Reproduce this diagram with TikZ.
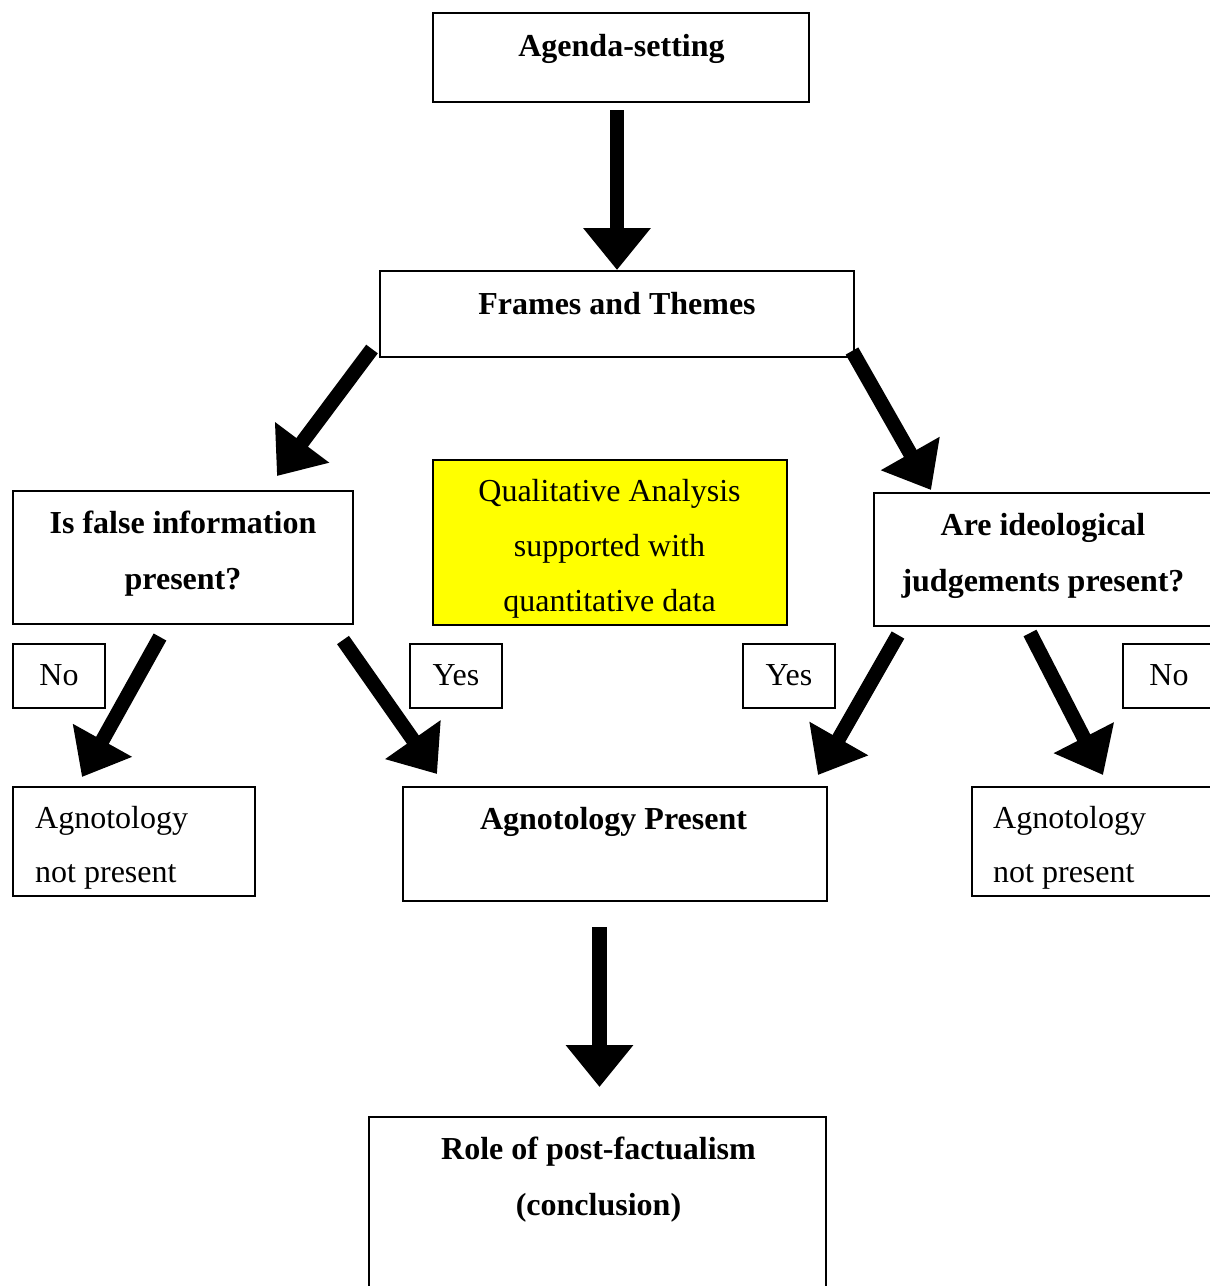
\documentclass[tikz,border=0pt]{standalone}
\usepackage{fontspec}
\setmainfont{Liberation Serif}
\usetikzlibrary{arrows.meta}
\definecolor{pureyellow}{RGB}{255,255,0}
\begin{document}
\begin{tikzpicture}[x=1pt,y=-1pt,
  box/.style={draw=black, line width=1.8pt, anchor=north west, inner sep=0pt, outer sep=0pt},
  txt/.style={anchor=base, inner sep=0pt, font=\fontsize{32}{55}\selectfont},
  txtl/.style={anchor=base west, inner sep=0pt, font=\fontsize{32}{55}\selectfont},
  bigarrow/.style={line width=14.5pt, -{Triangle[width=65pt,length=42pt]}}]
\useasboundingbox (0,0) rectangle (1210,1286);
\clip (0,0) rectangle (1210,1286);
% boxes
\node[box, minimum width=376pt, minimum height=89pt] (agenda) at (433,13) {};
\node[box, minimum width=474pt, minimum height=86pt] (frames) at (380,271) {};
\node[box, minimum width=340pt, minimum height=133pt] (falseinfo) at (13,491) {};
\node[box, fill=pureyellow, minimum width=354pt, minimum height=165pt] (qual) at (433,460) {};
\node[box, minimum width=340pt, minimum height=133pt] (ideo) at (874,493) {};
\node[box, minimum width=92pt, minimum height=64pt] (noL) at (13,644) {};
\node[box, minimum width=92pt, minimum height=64pt] (yesL) at (410,644) {};
\node[box, minimum width=92pt, minimum height=64pt] (yesR) at (743,644) {};
\node[box, minimum width=100pt, minimum height=64pt] (noR) at (1123,644) {};
\node[box, minimum width=242pt, minimum height=109pt] (agnL) at (13,787) {};
\node[box, minimum width=424pt, minimum height=114pt] (agnP) at (403,787) {};
\node[box, minimum width=250pt, minimum height=109pt] (agnR) at (972,787) {};
\node[box, minimum width=457pt, minimum height=220pt] (role) at (369,1117) {};
% texts
\node[txt] (tagenda) at (621.5,56) {\bfseries Agenda-setting};
\node[txt] (tframes) at (617,314) {\bfseries Frames and Themes};
\node[txt] (tfalse1) at (183,533) {\bfseries Is false information};
\node[txt] (tfalse2) at (183,589) {\bfseries present?};
\node[txt] (tqual1) at (609.5,501) {Qualitative Analysis};
\node[txt] (tqual2) at (609.5,556) {supported with};
\node[txt] (tqual3) at (609.5,611) {quantitative data};
\node[txt] (tideo1) at (1043,535) {\bfseries Are ideological};
\node[txt] (tideo2) at (1043,591) {\bfseries judgements present?};
\node[txt] (tnoL) at (59,685) {No};
\node[txt] (tyesL) at (456,685) {Yes};
\node[txt] (tyesR) at (789,685) {Yes};
\node[txt] (tnoR) at (1169,685) {No};
\node[txtl] (tagnL1) at (35,828) {Agnotology};
\node[txtl] (tagnL2) at (35,882) {not present};
\node[txtl] (tagnR1) at (993,828) {Agnotology};
\node[txtl] (tagnR2) at (993,882) {not present};
\node[txt] (tagnP) at (613.5,829) {\bfseries Agnotology Present};
\node[txt] (trole1) at (598.5,1159) {\bfseries Role of post-factualism};
\node[txt] (trole2) at (598.5,1215) {\bfseries (conclusion)};
% arrow end points
\coordinate (a1s) at (617,110);   \coordinate (a1e) at (617,270);
\coordinate (a2s) at (372,349);   \coordinate (a2e) at (277,476);
\coordinate (a3s) at (852,351);   \coordinate (a3e) at (931,490);
\coordinate (a4s) at (160,637);   \coordinate (a4e) at (82,777);
\coordinate (a5s) at (343,640);   \coordinate (a5e) at (437,774);
\coordinate (a6s) at (898,635);   \coordinate (a6e) at (818,775);
\coordinate (a7s) at (1030,633);  \coordinate (a7e) at (1103,775);
\coordinate (a8s) at (599.5,927); \coordinate (a8e) at (599.5,1087);
\draw[bigarrow] (a1s) -- (a1e);
\draw[bigarrow] (a2s) -- (a2e);
\draw[bigarrow] (a3s) -- (a3e);
\draw[bigarrow] (a4s) -- (a4e);
\draw[bigarrow] (a5s) -- (a5e);
\draw[bigarrow] (a6s) -- (a6e);
\draw[bigarrow] (a7s) -- (a7e);
\draw[bigarrow] (a8s) -- (a8e);
\end{tikzpicture}
\end{document}
